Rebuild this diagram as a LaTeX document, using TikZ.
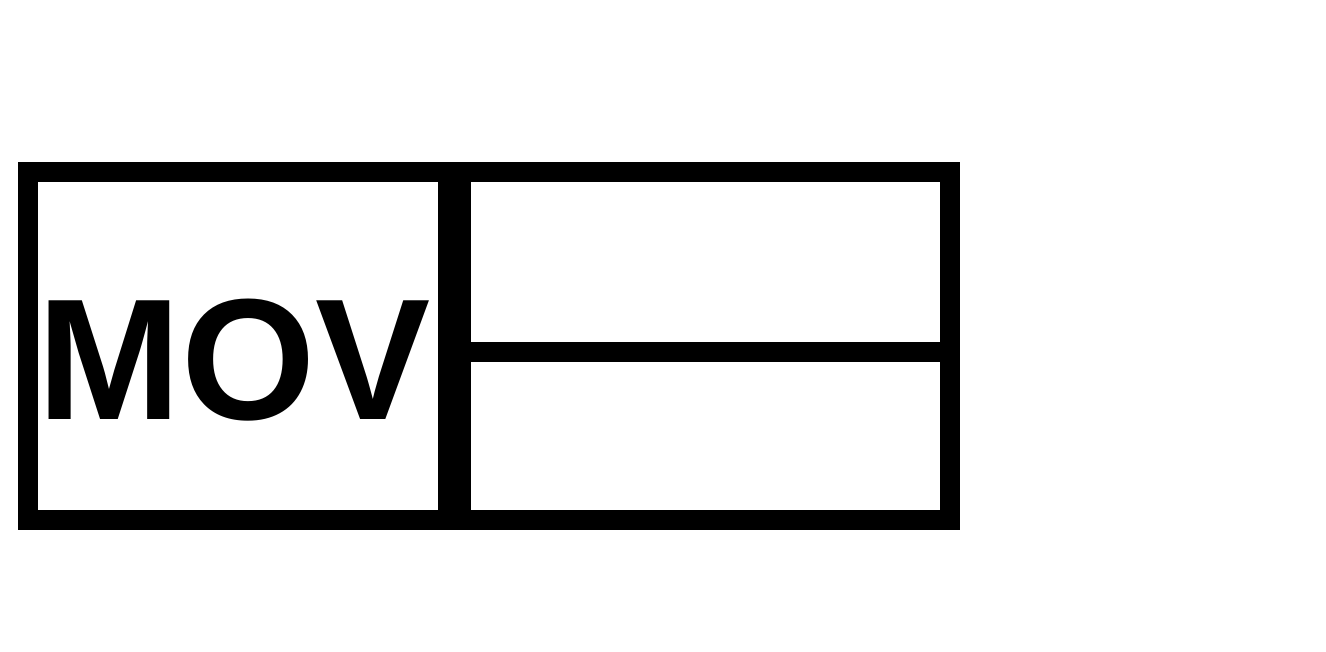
\documentclass[tikz,border=0pt]{standalone}
\usepackage{fontspec}
\setmainfont{Liberation Sans}

\tikzset{
  cell/.style={
    rectangle,
    draw,
    line width=20pt,
    inner sep=0pt,
    text centered
  },
}

\begin{document}
\begin{tikzpicture}[x=1pt, y=-1pt]
  \useasboundingbox (0, 0) rectangle (1326, 652);
  \node[cell, anchor=center, minimum width=420pt, minimum height=347.5pt] (mov) at (238, 345.75) {};
  \node[cell, anchor=center, minimum width=489pt, minimum height=180pt] (upper) at (705.5, 262) {};
  \node[cell, anchor=center, minimum width=489pt, minimum height=167.5pt] (lower) at (705.5, 435.75) {};
  \node[inner sep=0pt, anchor=base] (label) at (234, 419.3)
    {\fontsize{172.6pt}{200pt}\selectfont\bfseries MOV};
\end{tikzpicture}
\end{document}
